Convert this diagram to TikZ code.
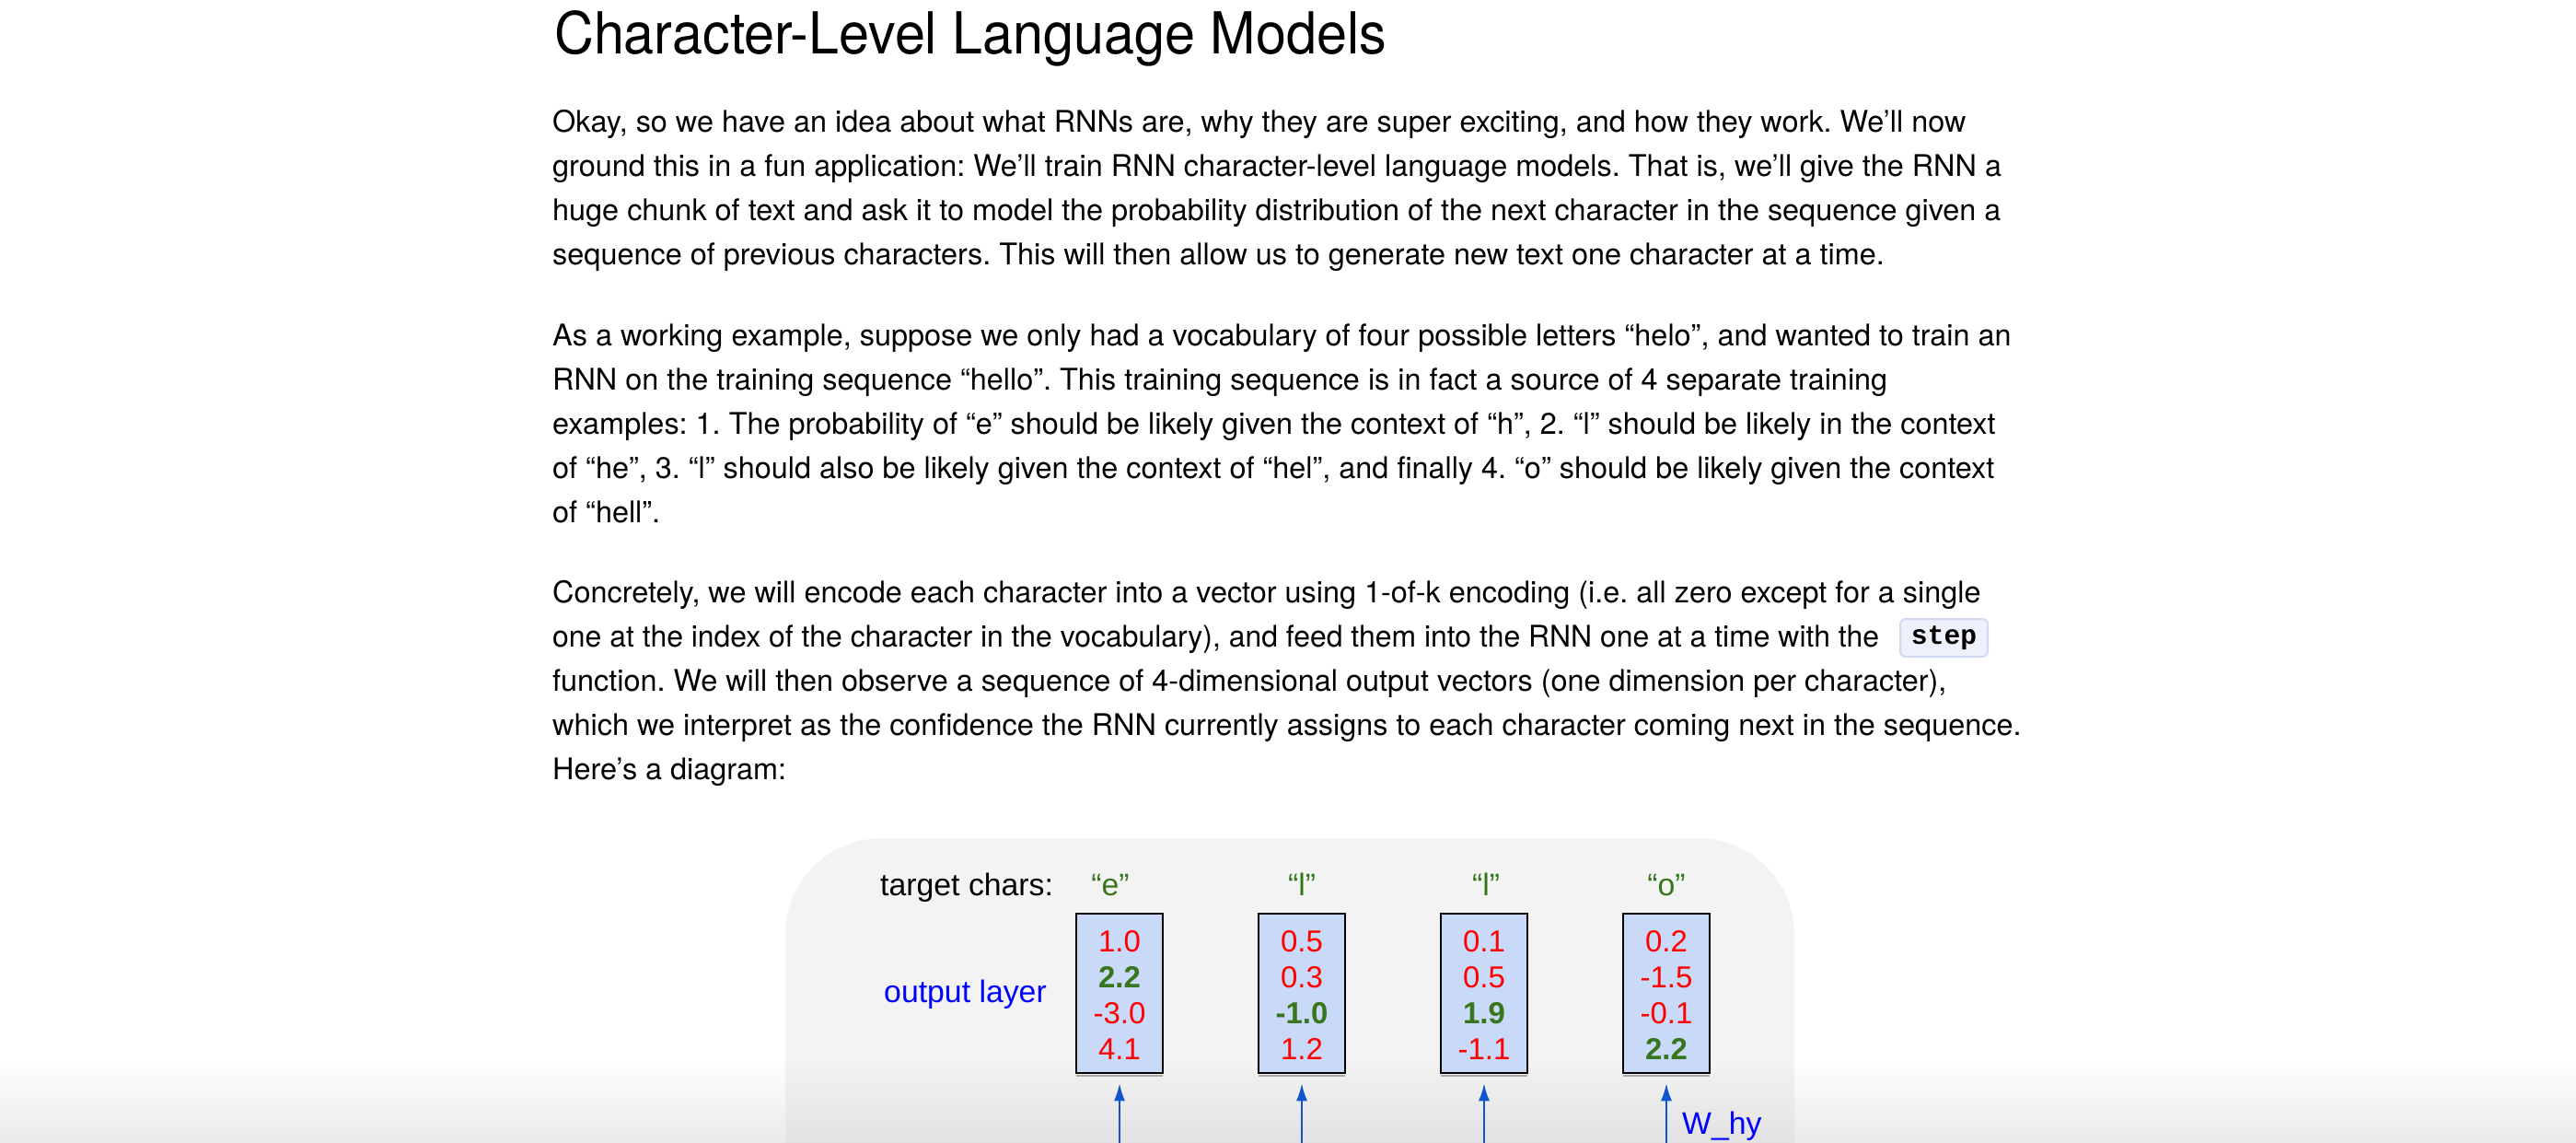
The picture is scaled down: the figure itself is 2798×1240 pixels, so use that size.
\documentclass[tikz,border=0pt]{standalone}
\usepackage{fontspec}
\usepackage{graphicx}
\setmainfont{TeX Gyre Heros}
\newfontfamily\diagfont{Liberation Sans}
\newfontfamily\codefont{Liberation Mono}
\usetikzlibrary{arrows.meta}
\frenchspacing
\definecolor{diagbg}{HTML}{F3F3F3}
\definecolor{boxfill}{HTML}{C9DAF8}
\definecolor{numred}{HTML}{FF0000}
\definecolor{numgreen}{HTML}{38761D}
\definecolor{lblblue}{HTML}{0000FF}
\definecolor{arrblue}{HTML}{1155CC}
\definecolor{codefill}{HTML}{EEF0FC}
\definecolor{codeline}{HTML}{D3D8F2}
\definecolor{shadowmid}{HTML}{F8F8F8}
\definecolor{shadowbot}{HTML}{EAEAEA}
\definecolor{dshadowmid}{HTML}{EDEDED}
\definecolor{dshadowbot}{HTML}{E2E2E2}
\tikzset{
  bodyline/.style={anchor=base west, inner sep=0pt, font=\fontsize{32.4}{48}\selectfont},
  titleline/.style={anchor=base west, inner sep=0pt, font=\fontsize{59.3}{70}\selectfont},
  dlabel/.style={inner sep=0pt, font=\diagfont\fontsize{33.8}{40}\selectfont},
  vecbox/.style={draw=black, line width=2.5pt, fill=boxfill, minimum width=94pt, minimum height=173pt, inner sep=0pt},
  num/.style={anchor=base, inner sep=0pt, text=numred, font=\diagfont\fontsize{33}{40}\selectfont},
  numok/.style={anchor=base, inner sep=0pt, text=numgreen, font=\diagfont\bfseries\fontsize{33}{40}\selectfont},
  tchar/.style={anchor=base, inner sep=0pt, text=numgreen, font=\diagfont\fontsize{33.8}{40}\selectfont},
  uparrow/.style={draw=arrblue, line width=2pt, -{Latex[length=19pt,width=12pt]}},
  codebox/.style={draw=codeline, line width=2pt, fill=codefill, rounded corners=6pt, minimum width=95pt, minimum height=41pt, inner sep=0pt, font=\codefont\bfseries\fontsize{29.6}{36}\selectfont}
}
\begin{document}
\begin{tikzpicture}[x=1pt,y=-1pt]
\useasboundingbox (0,0) rectangle (2798,1240);
\begin{scope}
\clip (0,0) rectangle (2798,1240);
\fill[white] (0,0) rectangle (2798,1240);
% title
\node[titleline] (title) at (602,58) {\scalebox{1}[1.06]{Character-Level Language Models}};
% paragraph 1
\node[bodyline] (p11) at (600,143) {Okay, so we have an idea about what RNNs are, why they are super exciting, and how they work. We’ll now};
\node[bodyline] (p12) at (600,191) {ground this in a fun application: We’ll train RNN character-level language models. That is, we’ll give the RNN a};
\node[bodyline] (p13) at (600,239) {huge chunk of text and ask it to model the probability distribution of the next character in the sequence given a};
\node[bodyline] (p14) at (600,287) {sequence of previous characters. This will then allow us to generate new text one character at a time.};
% paragraph 2
\node[bodyline] (p21) at (600,375) {As a working example, suppose we only had a vocabulary of four possible letters “helo”, and wanted to train an};
\node[bodyline] (p22) at (600,423) {RNN on the training sequence “hello”. This training sequence is in fact a source of 4 separate training};
\node[bodyline] (p23) at (600,471) {examples: 1. The probability of “e” should be likely given the context of “h”, 2. “l” should be likely in the context};
\node[bodyline] (p24) at (600,519) {of “he”, 3. “l” should also be likely given the context of “hel”, and finally 4. “o” should be likely given the context};
\node[bodyline] (p25) at (600,567) {of “hell”.};
% paragraph 3
\node[bodyline] (p31) at (600,654) {Concretely, we will encode each character into a vector using 1-of-k encoding (i.e. all zero except for a single};
\node[bodyline] (p32) at (600,702) {\scalebox{0.985}[1]{one at the index of the character in the vocabulary), and feed them into the RNN one at a time with the}};
\node[codebox] (code) at (2111.5,692.5) {step};
\node[bodyline] (p33) at (600,750) {function. We will then observe a sequence of 4-dimensional output vectors (one dimension per character),};
\node[bodyline] (p34) at (600,798) {which we interpret as the confidence the RNN currently assigns to each character coming next in the sequence.};
\node[bodyline] (p35) at (600,846) {Here’s a diagram:};
% diagram background
\fill[diagbg, rounded corners=105pt] (853,910) rectangle (1949,1400);
% bottom shadow (screen fold)
\shade[top color=white, middle color=shadowmid, bottom color=shadowbot] (0,1150) rectangle (853,1240);
\shade[top color=white, middle color=shadowmid, bottom color=shadowbot] (1949,1150) rectangle (2798,1240);
\shade[top color=diagbg, middle color=dshadowmid, bottom color=dshadowbot] (853,1150) rectangle (1949,1240);
% labels
\node[dlabel, anchor=base west] (tc) at (956,972) {target chars:};
\node[tchar] (t1) at (1206,972) {“e”};
\node[tchar] (t2) at (1414,972) {“l”};
\node[tchar] (t3) at (1614,972) {“l”};
\node[tchar] (t4) at (1810,972) {“o”};
\node[dlabel, anchor=base west, text=lblblue] (ol) at (960,1088) {output layer};
% vectors
\foreach \i/\x in {1/1216,2/1414,3/1612,4/1810}{
  \draw[gray!70, line width=2pt] (\x-47,1167.5) -- (\x+47,1167.5);
  \node[vecbox] (o\i) at (\x,1078.5) {};
  \coordinate (s\i) at (\x,1260);
}
\node[num]   (n11) at (1216,1033) {1.0};
\node[numok] (n12) at (1216,1072) {2.2};
\node[num]   (n13) at (1216,1111) {-3.0};
\node[num]   (n14) at (1216,1150) {4.1};
\node[num]   (n21) at (1414,1033) {0.5};
\node[num]   (n22) at (1414,1072) {0.3};
\node[numok] (n23) at (1414,1111) {-1.0};
\node[num]   (n24) at (1414,1150) {1.2};
\node[num]   (n31) at (1612,1033) {0.1};
\node[num]   (n32) at (1612,1072) {0.5};
\node[numok] (n33) at (1612,1111) {1.9};
\node[num]   (n34) at (1612,1150) {-1.1};
\node[num]   (n41) at (1810,1033) {0.2};
\node[num]   (n42) at (1810,1072) {-1.5};
\node[num]   (n43) at (1810,1111) {-0.1};
\node[numok] (n44) at (1810,1150) {2.2};
% arrows
\foreach \i in {1,2,3,4}{
  \draw[uparrow, shorten >=10pt] (s\i) -- (o\i.south);
}
\node[dlabel, anchor=base west, text=lblblue] (why) at (1827,1231) {W\_hy};
\end{scope}
\end{tikzpicture}
\end{document}
